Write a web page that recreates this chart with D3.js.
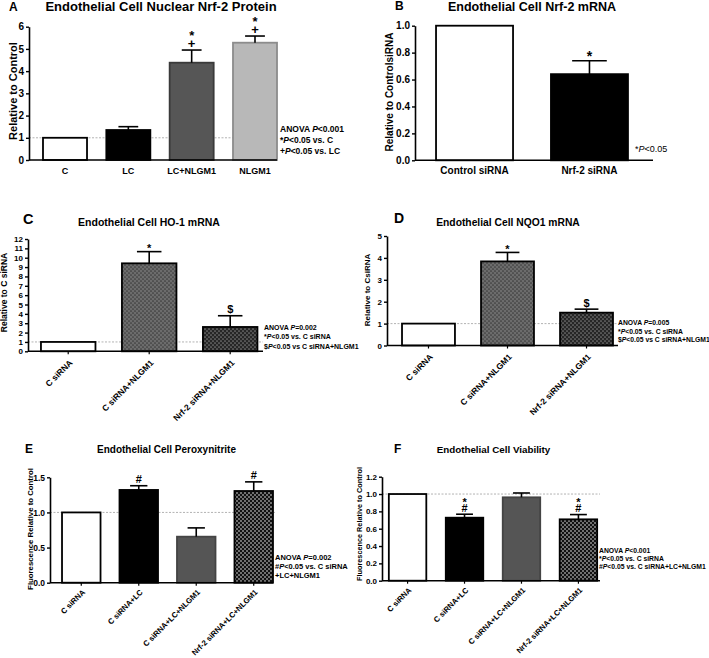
<!DOCTYPE html>
<html><head><meta charset="utf-8">
<script src="https://cdn.jsdelivr.net/npm/d3@7"></script>
<style>
html,body{margin:0;padding:0;background:#fff;}
svg{display:block;font-family:"Liberation Sans",Arial,Helvetica,sans-serif;}
</style></head>
<body><svg id="c" width="709" height="658"></svg>
<script>
// ---------------- DATA ----------------
const aCategories = ["C", "LC", "LC+NLGM1", "NLGM1"];
const aValues = [1.0, 1.35, 4.38, 5.28];
const aErrors = [0, 0.15, 0.57, 0.30];
const aMarks = [[], [], ["+", "*"], ["+", "*"]];
const aYTicks = [0, 1, 2, 3, 4, 5, 6];
const aTitle = "Endothelial Cell Nuclear Nrf-2 Protein";
const aYLabel = "Relative to Control";
const aNotes = ["ANOVA P<0.001", "*P<0.05 vs. C", "+P<0.05 vs. LC"];

const bCategories = ["Control siRNA", "Nrf-2 siRNA"];
const bValues = [1.0, 0.64];
const bErrors = [0, 0.10];
const bMarks = [[], ["*"]];
const bYTicks = [0, 0.2, 0.4, 0.6, 0.8, 1.0];
const bTitle = "Endothelial Cell Nrf-2 mRNA";
const bYLabel = "Relative to ControlsiRNA";
const bNotes = ["*P<0.05"];

const cCategories = ["C siRNA", "C siRNA+NLGM1", "Nrf-2 siRNA+NLGM1"];
const cValues = [1.0, 9.4, 2.6];
const cErrors = [0, 1.25, 1.2];
const cMarks = [[], ["*"], ["$"]];
const cYTicks = [0, 1, 2, 3, 4, 5, 6, 7, 8, 9, 10, 11, 12];
const cTitle = "Endothelial Cell HO-1 mRNA";
const cYLabel = "Relative to C siRNA";
const cNotes = ["ANOVA P=0.002", "*P<0.05 vs. C siRNA", "$P<0.05 vs C siRNA+NLGM1"];

const dCategories = ["C siRNA", "C siRNA+NLGM1", "Nrf-2 siRNA+NLGM1"];
const dValues = [1.0, 3.84, 1.5];
const dErrors = [0, 0.41, 0.16];
const dMarks = [[], ["*"], ["$"]];
const dYTicks = [0, 1, 2, 3, 4, 5];
const dTitle = "Endothelial Cell NQO1 mRNA";
const dYLabel = "Relative to CsiRNA";
const dNotes = ["ANOVA P=0.005", "*P<0.05 vs. C siRNA", "$P<0.05 vs C siRNA+NLGM1"];

const eCategories = ["C siRNA", "C siRNA+LC", "C siRNA+LC+NLGM1", "Nrf-2 siRNA+LC+NLGM1"];
const eValues = [1.0, 1.32, 0.655, 1.305];
const eErrors = [0, 0.06, 0.125, 0.13];
const eMarks = [[], ["#"], [], ["#"]];
const eYTicks = [0, 0.5, 1.0, 1.5];
const eTitle = "Endothelial Cell Peroxynitrite";
const eYLabel = "Fluorescence Relative to Control";
const eNotes = ["ANOVA P=0.002", "#P<0.05 vs. C siRNA", "+LC+NLGM1"];

const fCategories = ["C siRNA", "C siRNA+LC", "C siRNA+LC+NLGM1", "Nrf-2 siRNA+LC+NLGM1"];
const fValues = [1.0, 0.727, 0.962, 0.708];
const fErrors = [0, 0.04, 0.05, 0.055];
const fMarks = [[], ["#", "*"], [], ["#", "*"]];
const fYTicks = [0, 0.2, 0.4, 0.6, 0.8, 1.0, 1.2];
const fTitle = "Endothelial Cell Viability";
const fYLabel = "Fluorescence Relative to Control";
const fNotes = ["ANOVA P<0.001", "*P<0.05 vs. C siRNA", "#P<0.05 vs. C siRNA+LC+NLGM1"];

// ---------------- DRAWING ----------------
const svg = d3.select("#c");
const defs = svg.append("defs");
function dotPattern(id, size, bg, dots, r) {
  const p = defs.append("pattern").attr("id", id).attr("patternUnits", "userSpaceOnUse")
    .attr("width", size).attr("height", size);
  p.append("rect").attr("width", size).attr("height", size).attr("fill", bg);
  p.append("circle").attr("cx", size / 4).attr("cy", size / 4).attr("r", r).attr("fill", dots);
  p.append("circle").attr("cx", 3 * size / 4).attr("cy", 3 * size / 4).attr("r", r).attr("fill", dots);
}
dotPattern("dotsGray", 4, "#6c6c6c", "#3a3a3a", 0.85);
dotPattern("dotsDark", 4, "#262626", "#7c7c7c", 0.85);
dotPattern("checker", 4, "#111", "#fff", 0.75);

const panels = [
  { d: {cats: aCategories, vals: aValues, errs: aErrors, marks: aMarks, ticks: aYTicks, title: aTitle, ylab: aYLabel, notes: aNotes},
    letter: "A", lx: 9, ly: 10.5, ls: 12,
    ax: 29, r1: 291, pi: 0.305, po: 0.221, y0: 160, yTop: 26.7, yMax: 6, xEnd: 277, refEnd: 278,
    tx: 161, ty: 10.7, ts: 13, ylx: 17, yly: 91, yls: 11, tickFs: 10, fmt: d3.format("d"),
    xFs: 9, rotate: false, xTicks: false, xPad: 8,
    nx: 280, ny: [132, 143, 154], ns: 8.5, nBold: true, ms: 13,
    fills: ["#fff", "#000", "#565656", "#b8b8b8"], strokes: ["#000", "#000", "#3a3a3a", "#8c8c8c"] },
  { d: {cats: bCategories, vals: bValues, errs: bErrors, marks: bMarks, ticks: bYTicks, title: bTitle, ylab: bYLabel, notes: bNotes},
    letter: "B", lx: 395, ly: 10, ls: 12,
    ax: 415, r1: 649, pi: 0.33, po: 0.183, y0: 160.3, yTop: 25.7, yMax: 1, xEnd: 653, refEnd: null,
    tx: 532, ty: 11, ts: 12.5, ylx: 393, yly: 92, yls: 10, tickFs: 10, fmt: d3.format(".1f"),
    xFs: 10, rotate: false, xTicks: false, xPad: 7,
    nx: 635, ny: [152], ns: 9, nBold: false, ms: 14,
    fills: ["#fff", "#000"], strokes: ["#000", "#000"] },
  { d: {cats: cCategories, vals: cValues, errs: cErrors, marks: cMarks, ticks: cYTicks, title: cTitle, ylab: cYLabel, notes: cNotes},
    letter: "C", lx: 23, ly: 224, ls: 14.5,
    ax: 28, r1: 270.4, pi: 0.327, po: 0.16, y0: 351.3, yTop: 239, yMax: 12, xEnd: 263, refEnd: 263,
    tx: 149, ty: 226, ts: 10.5, ylx: 6.5, yly: 292.5, yls: 8.5, tickFs: 8, fmt: d3.format("d"),
    xFs: 8.5, rotate: true, xTicks: true, lx0: -5, ly0: 9,
    nx: 264, ny: [329.5, 338.5, 348.5], ns: 7, nBold: true, ms: 11,
    fills: ["#fff", "url(#dotsGray)", "url(#dotsDark)"], strokes: ["#000", "#000", "#000"] },
  { d: {cats: dCategories, vals: dValues, errs: dErrors, marks: dMarks, ticks: dYTicks, title: dTitle, ylab: dYLabel, notes: dNotes},
    letter: "D", lx: 394, ly: 223, ls: 14,
    ax: 387, r1: 628, pi: 0.33, po: 0.19, y0: 345.5, yTop: 236, yMax: 5, xEnd: 618, refEnd: 618,
    tx: 508, ty: 226, ts: 10.3, ylx: 370, yly: 290, yls: 8, tickFs: 8, fmt: d3.format("d"),
    xFs: 8.5, rotate: true, xTicks: true, lx0: -5, ly0: 9,
    nx: 618, ny: [324.5, 333.5, 341.5], ns: 6.8, nBold: true, ms: 11,
    fills: ["#fff", "url(#dotsGray)", "url(#dotsDark)"], strokes: ["#000", "#000", "#000"] },
  { d: {cats: eCategories, vals: eValues, errs: eErrors, marks: eMarks, ticks: eYTicks, title: eTitle, ylab: eYLabel, notes: eNotes},
    letter: "E", lx: 25, ly: 453, ls: 12,
    ax: 50, r1: 285, pi: 0.33, po: 0.209, y0: 582.7, yTop: 477.3, yMax: 1.5, xEnd: 273, refEnd: 275,
    tx: 166.5, ty: 453, ts: 10, ylx: 33, yly: 529, yls: 7.8, tickFs: 8.5, fmt: d3.format(".1f"),
    xFs: 7.7, rotate: true, xTicks: true, lx0: -4, ly0: 7.5,
    nx: 275, ny: [560, 569, 578], ns: 7.5, nBold: true, ms: 11,
    fills: ["#fff", "#000", "#555", "url(#checker)"], strokes: ["#000", "#000", "#444", "#000"] },
  { d: {cats: fCategories, vals: fValues, errs: fErrors, marks: fMarks, ticks: fYTicks, title: fTitle, ylab: fYLabel, notes: fNotes},
    letter: "F", lx: 394, ly: 453, ls: 12,
    ax: 382, r1: 604, pi: 0.342, po: 0.12, y0: 580.7, yTop: 476.7, yMax: 1.2, xEnd: 600, refEnd: 600,
    tx: 493.5, ty: 453, ts: 9.8, ylx: 362, yly: 524, yls: 7.3, tickFs: 8, fmt: d3.format(".1f"),
    xFs: 7.7, rotate: true, xTicks: true, lx0: -4, ly0: 7.5,
    nx: 599, ny: [552.5, 560.5, 568.5], ns: 6.8, nBold: true, ms: 11,
    fills: ["#fff", "#000", "#555", "url(#checker)"], strokes: ["#000", "#000", "#444", "#000"] }
];

function richText(sel, str) {
  const parts = str.split(/(P(?=[<=]))/);
  parts.forEach(p => {
    if (!p) return;
    const t = sel.append("tspan").text(p);
    if (p === "P") t.attr("font-style", "italic");
  });
}

panels.forEach(cfg => {
  const d = cfg.d;
  const g = svg.append("g");
  const x = d3.scaleBand().domain(d.cats).range([cfg.ax, cfg.r1])
    .paddingInner(cfg.pi).paddingOuter(cfg.po);
  const y = d3.scaleLinear().domain([0, cfg.yMax]).range([cfg.y0, cfg.yTop]);

  // panel letter & title
  g.append("text").attr("x", cfg.lx).attr("y", cfg.ly).attr("font-size", cfg.ls)
    .attr("font-weight", "bold").text(cfg.letter);
  g.append("text").attr("x", cfg.tx).attr("y", cfg.ty).attr("font-size", cfg.ts)
    .attr("font-weight", "bold").attr("text-anchor", "middle").text(d.title);

  // reference line at 1
  if (cfg.refEnd) {
    g.append("line").attr("x1", cfg.ax).attr("x2", cfg.refEnd).attr("y1", y(1)).attr("y2", y(1))
      .attr("stroke", "#aaa").attr("stroke-width", 0.9).attr("stroke-dasharray", "2,1.5");
  }

  // bars
  g.selectAll("rect.bar").data(d.cats).join("rect").attr("class", "bar")
    .attr("x", c => x(c)).attr("width", x.bandwidth())
    .attr("y", (c, i) => y(d.vals[i])).attr("height", (c, i) => y(0) - y(d.vals[i]))
    .attr("fill", (c, i) => cfg.fills[i]).attr("stroke", (c, i) => cfg.strokes[i])
    .attr("stroke-width", 1.8);

  // error bars and marks
  const capW = x.bandwidth() * 0.45;
  d.cats.forEach((c, i) => {
    const cx = x(c) + x.bandwidth() / 2;
    const top = d.vals[i] + d.errs[i];
    if (d.errs[i] > 0) {
      g.append("line").attr("x1", cx).attr("x2", cx).attr("y1", y(d.vals[i])).attr("y2", y(top))
        .attr("stroke", "#000").attr("stroke-width", 1.6);
      g.append("line").attr("x1", cx - capW / 2).attr("x2", cx + capW / 2).attr("y1", y(top)).attr("y2", y(top))
        .attr("stroke", "#000").attr("stroke-width", 1.6);
    }
    const base = y(top) - 2.5;
    const gap = cfg.ms * 0.8;
    d.marks[i].forEach((m, k) => {
      g.append("text").attr("x", cx).attr("y", base - k * gap + (m === "*" ? 3 : 0))
        .attr("text-anchor", "middle").attr("font-size", cfg.ms).attr("font-weight", "bold").text(m);
    });
  });

  // y axis
  const yAx = g.append("g").attr("transform", `translate(${cfg.ax},0)`)
    .call(d3.axisLeft(y).tickValues(d.ticks).tickFormat(cfg.fmt).tickSize(3).tickSizeOuter(0).tickPadding(2));
  yAx.selectAll("text").attr("font-size", cfg.tickFs).attr("font-weight", "bold")
    .attr("font-family", "'Liberation Sans',Arial,sans-serif").attr("fill", "#000");
  yAx.selectAll("line").attr("stroke-width", 1.4);
  yAx.select(".domain").attr("stroke-width", 1.6);

  // x axis
  const xAx = g.append("g").attr("transform", `translate(0,${cfg.y0})`)
    .call(d3.axisBottom(x).tickSize(cfg.xTicks ? 3 : 0).tickSizeOuter(0).tickPadding(cfg.xPad || 2));
  xAx.select(".domain").attr("d", `M${cfg.ax},0H${cfg.xEnd}`).attr("stroke-width", 1.6);
  xAx.selectAll("line").attr("stroke-width", 1.2);
  const xt = xAx.selectAll("text").attr("font-size", cfg.xFs).attr("font-weight", "bold")
    .attr("font-family", "'Liberation Sans',Arial,sans-serif").attr("fill", "#000");
  if (cfg.rotate) {
    xt.attr("transform", "rotate(-45)").attr("x", cfg.lx0).attr("y", cfg.ly0).attr("dy", "0.35em")
      .attr("text-anchor", "end");
  }

  // y label
  g.append("text").attr("transform", `translate(${cfg.ylx},${cfg.yly}) rotate(-90)`)
    .attr("text-anchor", "middle").attr("font-size", cfg.yls).attr("font-weight", "bold").text(d.ylab);

  // notes
  d.notes.forEach((n, k) => {
    const t = g.append("text").attr("x", cfg.nx).attr("y", cfg.ny[k]).attr("font-size", cfg.ns)
      .attr("font-weight", cfg.nBold ? "bold" : "normal");
    richText(t, n);
  });
});
</script>
</body></html>
